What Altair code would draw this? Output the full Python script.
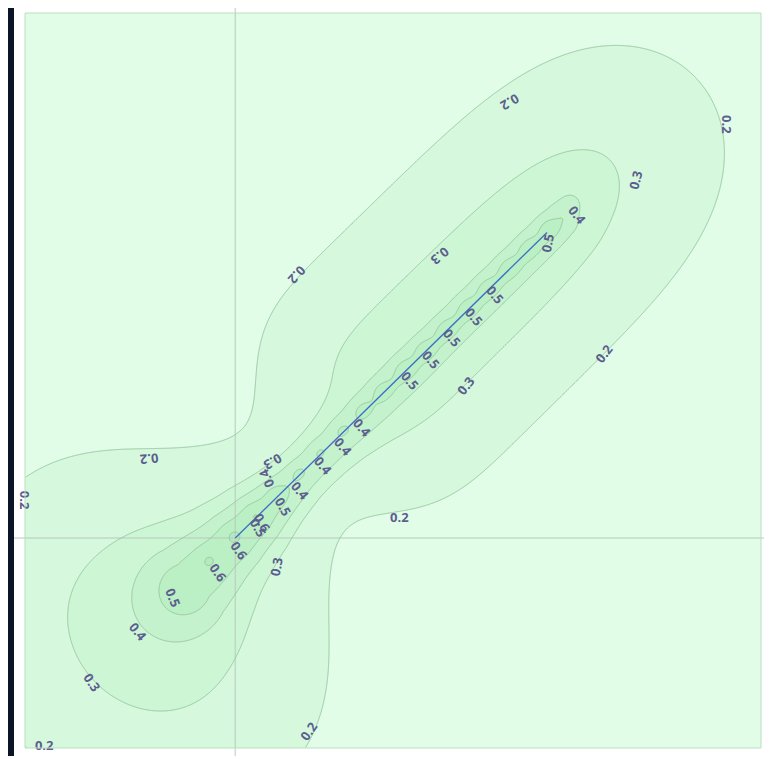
import numpy as np
import pandas as pd
import altair as alt
from collections import defaultdict

alt.data_transformers.disable_max_rows()

# ---------------- axes (data units) ----------------
x_domain = [-0.4, 1.0]
y_domain = [-0.4, 1.0]
plot_w, plot_h = 736, 735

# ---------------- contour levels / colours ----------------
levels = [0.2, 0.3, 0.4, 0.5, 0.6]
band_names = ["0.2", "0.3", "0.4", "0.5", "0.6"]
band_colors = ["#d6f9dd", "#cdf6d5", "#c4f2cc", "#bbefc4", "#b2ecbc"]
outer_color = "#e1fce7"
contour_color = "#98c8a0"

# ---------------- highlighted path ----------------
path_x = [0.0, 0.593]
path_y = [0.0, 0.582]

# ---------------- field model ----------------
base_value = 0.13
blob_center = (-0.1713, -0.1827)
blob_sigma_along = 0.2131
blob_sigma_across = 0.2569
blob_amp = 0.205
core_center = (-0.1066, -0.1047)
core_sigma = 0.0723
core_amp = 0.14
neck_a, neck_sigma_along, neck_sigma_across, neck_amp = 0.1142, 0.1142, 0.1332, 0.045
ridge_start, ridge_end = 0.2626, 1.1646
ridge_sigma_start = 0.0856
ridge_sigma = 0.1732
ridge_offset = 0.0152
ridge_amp = 0.21
tube_a = [-0.1142, -0.0666, 0.0, 0.0571, 0.1142, 0.1713, 0.2284, 0.2854,
          0.3425, 0.3996, 0.4567, 0.5138, 0.5709, 0.8373, 0.8658]
tube_amp = [0.13, 0.21, 0.298, 0.315, 0.284, 0.244, 0.22, 0.19,
            0.173, 0.168, 0.174, 0.174, 0.175, 0.18, 0.165]
tube_width = [0.0533, 0.0514, 0.0476, 0.0438, 0.0390, 0.0362, 0.0343, 0.0324,
              0.0304, 0.0285, 0.0276, 0.0266, 0.0257, 0.0257, 0.0257]
tube_offset = -0.003
bead_a = [-0.0666, 0.0, 0.0571, 0.1123, 0.1732, 0.2284, 0.2873, 0.3425, 0.3958,
          0.4548, 0.5081, 0.5652, 0.6223, 0.6755, 0.7326, 0.7859, 0.8392]
bead_offset = 0.0057
bead_sigma = 0.0133
bead_amp = 0.045
tip_center = (0.6394, 0.6394)
tip_sigma = 0.0152
tip_amp = 0.08

# ---------------- contour labels ----------------
label_x = [0.5214, 0.9343, 0.7631, 0.3882, 0.1161, 0.6489,
           0.4929, 0.4529, 0.4110, 0.3711, 0.3311,
           0.4396, 0.7022, 0.3121,
           0.2398, 0.2036, 0.1656, 0.1218,
           0.0704, 0.0609, 0.0894, 0.0495, 0.0057, -0.0343,
           -0.1199, -0.1865, -0.2740, -0.3635, -0.4015, -0.1637, 0.0799, 0.1408,
           0.5956, 0.0419]
label_y = [0.8316, 0.7878, 0.6813, 0.5385, 0.5024, 0.6147,
           0.4624, 0.4206, 0.3806, 0.3387, 0.2988,
           0.2892, 0.3501, 0.0381,
           0.2093, 0.1732, 0.1370, 0.0894,
           0.1465, 0.1142, 0.0590, 0.0285, -0.0247, -0.0666,
           -0.1142, -0.1789, -0.2759, -0.3960, 0.0723, 0.1522, -0.0552, -0.3692,
           0.5614, 0.0190]
label_text = ["0.2", "0.2", "0.3", "0.3", "0.2", "0.4",
              "0.5", "0.5", "0.5", "0.5", "0.5",
              "0.3", "0.2", "0.2",
              "0.4", "0.4", "0.4", "0.4",
              "0.3", "0.4", "0.5", "0.6", "0.6", "0.6",
              "0.5", "0.4", "0.3", "0.2", "0.2", "0.2", "0.3", "0.2",
              "0.5", "0.5"]
label_angle = [150, 90, 285, 140, 132, 52,
               50, 50, 50, 50, 50,
               308, 308, 0,
               50, 50, 50, 50,
               150, 245, 60, 60, 55, 55,
               68, 50, 55, 0, 90, 175, 280, 305,
               280, 60]


# ---------------- evaluate field on pixel grid ----------------
def erf(x):
    s = np.sign(x)
    x = np.abs(x)
    t = 1.0 / (1.0 + 0.3275911 * x)
    y = 1 - (((((1.061405429 * t - 1.453152027) * t) + 1.421413741) * t
              - 0.284496736) * t + 0.254829592) * t * np.exp(-x * x)
    return s * y


def cdf(x):
    return 0.5 * (1 + erf(x / np.sqrt(2)))


nx, ny = plot_w, plot_h
dx = (x_domain[1] - x_domain[0]) / nx
dy = (y_domain[1] - y_domain[0]) / ny
xs = x_domain[0] + (np.arange(nx) + 0.5) * dx
ys = y_domain[0] + (np.arange(ny) + 0.5) * dy
X, Y = np.meshgrid(xs, ys)

ux, uy = path_x[1] - path_x[0], path_y[1] - path_y[0]
nrm = np.hypot(ux, uy)
ux, uy = ux / nrm, uy / nrm
vx, vy = -uy, ux
A = (X - path_x[0]) * ux + (Y - path_y[0]) * uy
P = (X - path_x[0]) * vx + (Y - path_y[0]) * vy


def gauss2(cx, cy, s):
    return np.exp(-((X - cx) ** 2 + (Y - cy) ** 2) / (2 * s * s))


Z = np.full_like(X, base_value)
# anisotropic lower-left blob (axes along / across the path direction)
ba = (X - blob_center[0]) * ux + (Y - blob_center[1]) * uy
bp = (X - blob_center[0]) * vx + (Y - blob_center[1]) * vy
Z += blob_amp * np.exp(-ba ** 2 / (2 * blob_sigma_along ** 2) - bp ** 2 / (2 * blob_sigma_across ** 2))
Z += core_amp * gauss2(core_center[0], core_center[1], core_sigma)
# neck between blob and ridge
Z += neck_amp * np.exp(-(A - neck_a) ** 2 / (2 * neck_sigma_along ** 2) - P ** 2 / (2 * neck_sigma_across ** 2))
# broad ridge along the path
Z += ridge_amp * np.exp(-(P - ridge_offset) ** 2 / (2 * ridge_sigma ** 2)) * \
    cdf((A - ridge_start) / ridge_sigma_start) * cdf((ridge_end - A) / ridge_sigma)
# narrow tube along the path
ac = np.clip(A, tube_a[0], tube_a[-1])
amp = np.interp(ac, tube_a, tube_amp)
wid = np.interp(ac, tube_a, tube_width)
cap = np.exp(-(A - ac) ** 2 / (2 * wid ** 2))
Z += amp * cap * np.exp(-(P - tube_offset) ** 2 / (2 * wid ** 2))
for a in bead_a:
    cx = path_x[0] + a * ux + bead_offset * vx
    cy = path_y[0] + a * uy + bead_offset * vy
    Z += bead_amp * gauss2(cx, cy, bead_sigma)
Z += tip_amp * gauss2(tip_center[0], tip_center[1], tip_sigma)

# ---------------- filled bands as row runs ----------------
rect_rows = []
for li, L in enumerate(levels):
    for j in range(ny):
        v = Z[j]
        ab = v >= L
        if not ab.any():
            continue
        d = np.diff(ab.astype(np.int8))
        starts = list(np.where(d == 1)[0] + 1)
        ends = list(np.where(d == -1)[0])
        if ab[0]:
            starts = [0] + starts
        if ab[-1]:
            ends = ends + [nx - 1]
        y0 = y_domain[0] + j * dy
        y1 = y0 + dy
        for s, e in zip(starts, ends):
            if s == 0:
                xl = x_domain[0]
            else:
                t = (L - v[s - 1]) / (v[s] - v[s - 1])
                xl = xs[s - 1] + t * dx
            if e == nx - 1:
                xr = x_domain[1]
            else:
                t = (L - v[e]) / (v[e + 1] - v[e])
                xr = xs[e] + t * dx
            rect_rows.append((band_names[li], round(float(xl), 5), round(float(xr), 5),
                              round(float(y0), 5), round(float(y1), 5)))
rects = pd.DataFrame(rect_rows, columns=["band", "x", "x2", "y", "y2"])

# ---------------- contour lines (marching squares) ----------------
SEG = {1: [("L", "B")], 2: [("B", "R")], 3: [("L", "R")], 4: [("R", "T")],
       6: [("B", "T")], 7: [("L", "T")], 8: [("T", "L")], 9: [("B", "T")],
       11: [("R", "T")], 12: [("L", "R")], 13: [("B", "R")], 14: [("L", "B")]}


def edge_id(name, j, i):
    if name == "B":
        return ("h", j, i)
    if name == "T":
        return ("h", j + 1, i)
    if name == "L":
        return ("v", j, i)
    return ("v", j, i + 1)


def edge_pt(e, L):
    kind, j, i = e
    if kind == "h":
        z0, z1 = Z[j, i], Z[j, i + 1]
        t = (L - z0) / (z1 - z0)
        return xs[i] + t * dx, ys[j]
    z0, z1 = Z[j, i], Z[j + 1, i]
    t = (L - z0) / (z1 - z0)
    return xs[i], ys[j] + t * dy


line_rows = []
lid = 0
for L in levels:
    ab = (Z >= L).astype(np.int8)
    case = ab[:-1, :-1] * 1 + ab[:-1, 1:] * 2 + ab[1:, 1:] * 4 + ab[1:, :-1] * 8
    jj, ii = np.where((case > 0) & (case < 15))
    segs = []
    for j, i in zip(jj, ii):
        c = int(case[j, i])
        if c in (5, 10):
            center = (Z[j, i] + Z[j, i + 1] + Z[j + 1, i] + Z[j + 1, i + 1]) / 4 >= L
            if (c == 5 and center) or (c == 10 and not center):
                pairs = [("B", "R"), ("T", "L")]
            else:
                pairs = [("L", "B"), ("R", "T")]
        else:
            pairs = SEG[c]
        for a_, b_ in pairs:
            segs.append((edge_id(a_, j, i), edge_id(b_, j, i)))
    adj = defaultdict(list)
    for k, (e1, e2) in enumerate(segs):
        adj[e1].append(k)
        adj[e2].append(k)
    used = [False] * len(segs)

    def walk(start):
        path = [start]
        cur = start
        while True:
            nxt = None
            for k in adj[cur]:
                if not used[k]:
                    nxt = k
                    break
            if nxt is None:
                break
            used[nxt] = True
            e1, e2 = segs[nxt]
            cur = e2 if e1 == cur else e1
            path.append(cur)
        return path

    paths = []
    for e, lst in list(adj.items()):
        if len(lst) == 1 and not used[lst[0]]:
            paths.append(walk(e))
    for k in range(len(segs)):
        if not used[k]:
            paths.append(walk(segs[k][0]))
    for path in paths:
        for o, e in enumerate(path):
            px_, py_ = edge_pt(e, L)
            line_rows.append((lid, o, round(float(px_), 5), round(float(py_), 5)))
        lid += 1
lines = pd.DataFrame(line_rows, columns=["lid", "o", "x", "y"])

# ---------------- chart ----------------
ppu_x = plot_w / (x_domain[1] - x_domain[0])
ppu_y = plot_h / (y_domain[1] - y_domain[0])
xs_scale = alt.Scale(domain=x_domain, nice=False, zero=False)
ys_scale = alt.Scale(domain=y_domain, nice=False, zero=False)

# frame decorations outside the plot (white margin band, dark left edge)
frame_left = x_domain[0] - 17 / ppu_x
frame_inner_left = x_domain[0] - 11 / ppu_x
frame_right = x_domain[1] + 3 / ppu_x
frame_top = y_domain[1] + 5 / ppu_y
frame_bottom = y_domain[0] - 8 / ppu_y

strips = pd.DataFrame({"x": [frame_left], "x2": [frame_inner_left],
                       "y": [frame_bottom], "y2": [frame_top]})
dark = alt.Chart(strips).mark_rect(color="#0b1527").encode(
    x=alt.X("x:Q", scale=xs_scale, axis=None), x2="x2:Q",
    y=alt.Y("y:Q", scale=ys_scale, axis=None), y2="y2:Q")

bands = alt.Chart(rects).mark_rect().encode(
    x=alt.X("x:Q", scale=xs_scale, axis=None),
    x2="x2:Q",
    y=alt.Y("y:Q", scale=ys_scale, axis=None),
    y2="y2:Q",
    color=alt.Color("band:N", scale=alt.Scale(domain=band_names, range=band_colors), legend=None),
)

grid_df = pd.DataFrame({
    "x": [0.0, frame_inner_left],
    "x2": [0.0, frame_right],
    "y": [frame_bottom, 0.0],
    "y2": [frame_top, 0.0],
})
grid = alt.Chart(grid_df).mark_rule(color="#b9cbbf", strokeWidth=1.5, opacity=0.7).encode(
    x=alt.X("x:Q", scale=xs_scale, axis=None), x2="x2:Q",
    y=alt.Y("y:Q", scale=ys_scale, axis=None), y2="y2:Q")

contours = alt.Chart(lines).mark_line(color=contour_color, strokeWidth=1).encode(
    x=alt.X("x:Q", scale=xs_scale, axis=None),
    y=alt.Y("y:Q", scale=ys_scale, axis=None),
    detail="lid:N",
    order="o:Q",
)

path_df = pd.DataFrame({"x": path_x, "y": path_y})
path_line = alt.Chart(path_df).mark_line(color="#3d6cc8", strokeWidth=1.3).encode(
    x=alt.X("x:Q", scale=xs_scale, axis=None),
    y=alt.Y("y:Q", scale=ys_scale, axis=None),
)

labels_df = pd.DataFrame({"x": label_x, "y": label_y, "t": label_text,
                          "ang": [a % 360 for a in label_angle]})
labels = alt.Chart(labels_df).mark_text(
    font="Open Sans", fontWeight="bold", fontSize=13, color="#5b5e8e",
    align="center", baseline="middle").encode(
    x=alt.X("x:Q", scale=xs_scale, axis=None),
    y=alt.Y("y:Q", scale=ys_scale, axis=None),
    text="t:N",
    angle=alt.Angle("ang:Q", scale=None),
)

border_df = pd.DataFrame({"x": [x_domain[0]], "x2": [x_domain[1]],
                          "y": [y_domain[0]], "y2": [y_domain[1]]})
border = alt.Chart(border_df).mark_rect(fillOpacity=0, stroke="#b9e0c0", strokeWidth=1).encode(
    x=alt.X("x:Q", scale=xs_scale, axis=None), x2="x2:Q",
    y=alt.Y("y:Q", scale=ys_scale, axis=None), y2="y2:Q")

chart = alt.layer(dark, bands, grid, contours, path_line, labels, border).properties(
    width=plot_w, height=plot_h,
    padding={"left": 17, "top": 5, "right": 3, "bottom": 8},
    autosize=alt.AutoSizeParams(type="none"),
    background="white",
).configure_view(fill=outer_color, strokeWidth=0)

chart.save("out.html", embed_options={"renderer": "svg", "actions": False})
